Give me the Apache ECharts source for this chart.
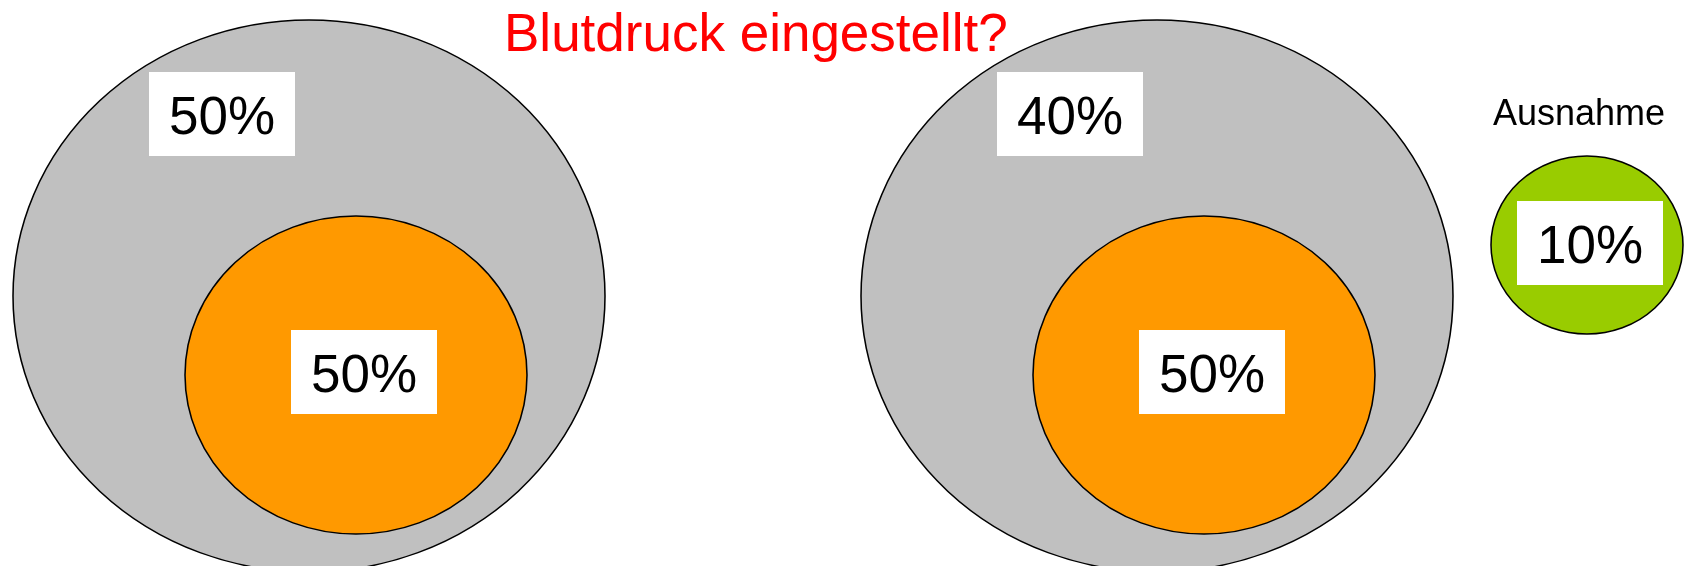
<!DOCTYPE html>
<html>
<head>
<meta charset="utf-8">
<script src="https://cdn.jsdelivr.net/npm/echarts@6/dist/echarts.min.js"></script>
<style>
  html, body { margin: 0; padding: 0; background: #fff; }
  #chart { width: 1685px; height: 566px; }
</style>
</head>
<body>
<div id="chart"></div>
<script>
// shares shown in the diagram (left group, right group, exception)
const shareNames = ['nicht eingestellt', 'eingestellt', 'nicht eingestellt', 'eingestellt', 'Ausnahme'];
const shareValues = [50, 50, 40, 50, 10];
const titleText = 'Blutdruck eingestellt?';
const exceptionText = 'Ausnahme';

// layout in pixel units of the hidden axes: ellipse centre + radii, label box centre
const ellipseCenters = [[309, 296], [1157, 296], [356, 375], [1204, 375], [1587, 245]];
const ellipseRadii = [[296, 276], [296, 276], [171, 159], [171, 159], [96, 89]];
const ellipseShareIdx = [0, 2, 1, 3, 4];
const boxCenters = [[222, 114], [364, 372], [1070, 114], [1212, 372], [1590, 243]];
const colors = { grey: '#c0c0c0', orange: '#ff9900', green: '#99cc00' };
const ellipseColors = [colors.grey, colors.grey, colors.orange, colors.orange, colors.green];

const ELLIPSE = 'path://M0,100 A100,100 0 1 1 200,100 A100,100 0 1 1 0,100 Z';
const font = '"Liberation Sans", Arial, sans-serif';

const chart = echarts.init(document.getElementById('chart'));

chart.setOption({
  animation: false,
  title: [
    {
      text: titleText,
      left: 499,
      top: 5,
      textStyle: { color: '#ff0000', fontSize: 53, fontWeight: 'normal', fontFamily: font }
    },
    {
      text: exceptionText,
      left: 1488,
      top: 92,
      textStyle: { color: '#000', fontSize: 36, fontWeight: 'normal', fontFamily: font }
    }
  ],
  grid: { left: 0, right: 0, top: 0, bottom: 0 },
  xAxis: { type: 'value', min: 0, max: 1685, show: false },
  yAxis: { type: 'value', min: 0, max: 566, inverse: true, show: false },
  series: [
    {
      type: 'scatter',
      symbol: ELLIPSE,
      silent: true,
      data: ellipseCenters.map((c, i) => ({
        name: shareNames[ellipseShareIdx[i]],
        value: c,
        symbolSize: [ellipseRadii[i][0] * 2, ellipseRadii[i][1] * 2],
        itemStyle: { color: ellipseColors[i], borderColor: '#000', borderWidth: 1.5, opacity: 1 }
      }))
    },
    {
      type: 'scatter',
      symbol: 'rect',
      symbolSize: [146, 84],
      silent: true,
      z: 3,
      itemStyle: { color: '#fff', opacity: 1 },
      label: {
        show: true,
        position: 'inside',
        offset: [0, 5],
        color: '#000',
        fontSize: 53,
        fontFamily: font,
        formatter: p => shareValues[p.dataIndex] + '%'
      },
      data: boxCenters.map((c, i) => ({ name: shareNames[i], value: c }))
    }
  ]
});
</script>
</body>
</html>
